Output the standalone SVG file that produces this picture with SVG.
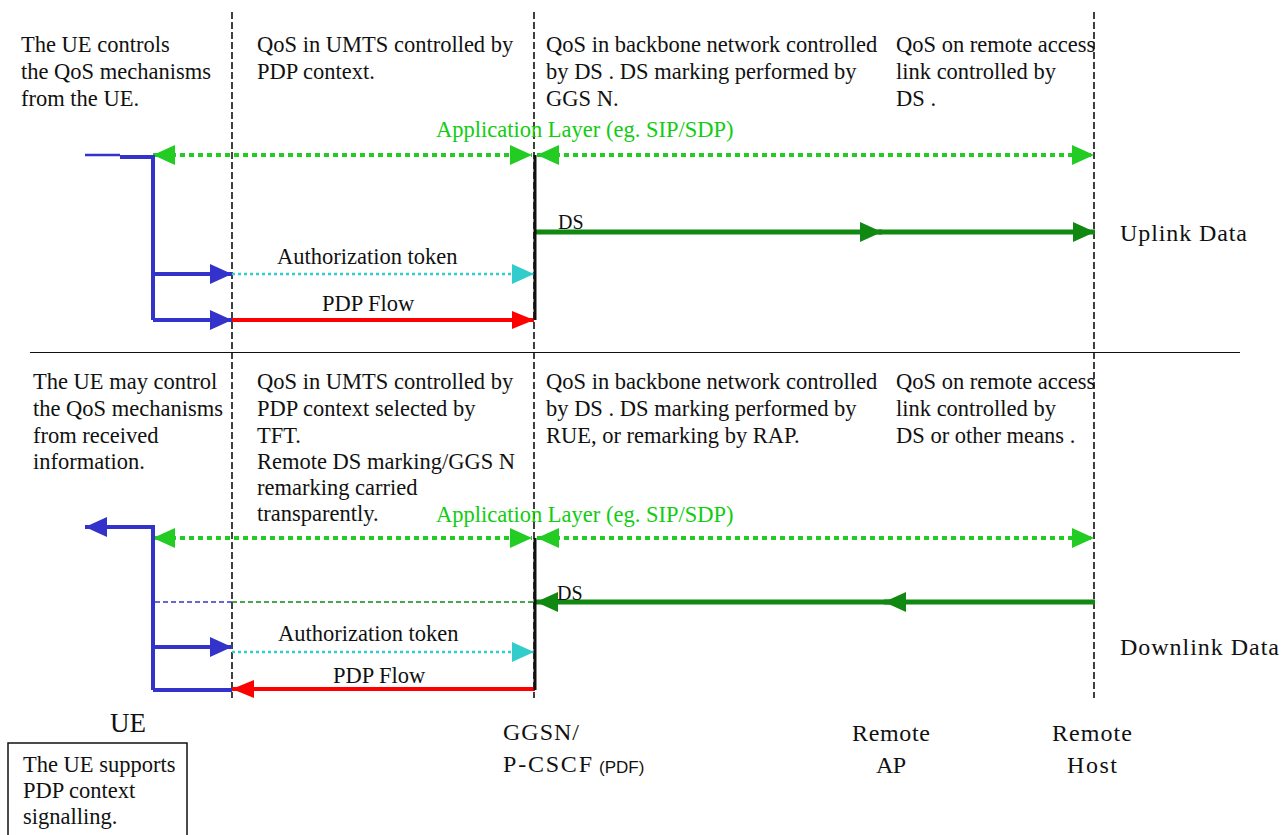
<svg xmlns="http://www.w3.org/2000/svg" width="1281" height="835" viewBox="0 0 1281 835">
<style>
text{font-family:"Liberation Serif","Times New Roman",serif;font-size:22.5px;fill:#111}
.g{fill:#11cc11}
.ds-l{font-size:20px}
.big{font-size:24px}
.ue{font-size:27px}
.pdf{font-family:"Liberation Sans",Arial,sans-serif;font-size:17px}
.life{stroke:#111;stroke-width:1.6;stroke-dasharray:7 3;fill:none}
.app{stroke:#22cc22;stroke-width:4;stroke-dasharray:5 4;fill:none}
.blue{stroke:#3333cc;stroke-width:4;fill:none}
.cyan{stroke:#33cccc;stroke-width:2.5;stroke-dasharray:3 3;fill:none}
.red{stroke:#ff0000;stroke-width:4;fill:none}
.ds{stroke:#118811;stroke-width:5;fill:none}
.thin{stroke-width:1.5;stroke-dasharray:5 3;fill:none}
.gg{stroke:#111;stroke-width:3}
</style>
<defs>
<marker id="mg" viewBox="0 0 22 20" refX="22" refY="10" markerWidth="22" markerHeight="20" markerUnits="userSpaceOnUse" orient="auto-start-reverse"><path d="M0,0 L22,10 L0,20 z" fill="#22cc22"/></marker>
<marker id="mb" viewBox="0 0 22 20" refX="22" refY="10" markerWidth="22" markerHeight="20" markerUnits="userSpaceOnUse" orient="auto"><path d="M0,0 L22,10 L0,20 z" fill="#3333cc"/></marker>
<marker id="mc" viewBox="0 0 22 20" refX="22" refY="10" markerWidth="22" markerHeight="20" markerUnits="userSpaceOnUse" orient="auto"><path d="M0,0 L22,10 L0,20 z" fill="#33cccc"/></marker>
<marker id="mr" viewBox="0 0 22 18" refX="22" refY="9" markerWidth="22" markerHeight="18" markerUnits="userSpaceOnUse" orient="auto"><path d="M0,0 L22,9 L0,18 z" fill="#ff0000"/></marker>
<marker id="md" viewBox="0 0 22 20" refX="22" refY="10" markerWidth="22" markerHeight="20" markerUnits="userSpaceOnUse" orient="auto"><path d="M0,0 L22,10 L0,20 z" fill="#118811"/></marker>
</defs>
<rect width="1281" height="835" fill="#ffffff"/>

<g id="lifelines">
<line class="life" x1="232" y1="12" x2="232" y2="698"/>
<line class="life" x1="534" y1="12" x2="534" y2="698"/>
<line class="life" x1="1094" y1="12" x2="1094" y2="698"/>
<line x1="30" y1="352.5" x2="1240" y2="352.5" stroke="#111" stroke-width="1"/>
</g>

<g id="uplink-text">
<text x="21" y="52">The UE controls</text>
<text x="21" y="79">the QoS mechanisms</text>
<text x="21" y="106">from the UE.</text>
<text x="257" y="52">QoS in UMTS controlled by</text>
<text x="257" y="79">PDP context.</text>
<text x="546" y="52">QoS in backbone network controlled</text>
<text x="546" y="79">by DS . DS marking performed by</text>
<text x="546" y="106">GGS N.</text>
<text x="896" y="52">QoS on remote access</text>
<text x="896" y="79">link controlled by</text>
<text x="896" y="106">DS .</text>
<text class="big" x="1120" y="241" textLength="127" lengthAdjust="spacing">Uplink Data</text>
</g>

<g id="downlink-text">
<text x="33" y="389">The UE may control</text>
<text x="33" y="416">the QoS mechanisms</text>
<text x="33" y="443">from received</text>
<text x="33" y="469">information.</text>
<text x="257" y="389">QoS in UMTS controlled by</text>
<text x="257" y="416">PDP context selected by</text>
<text x="257" y="443">TFT.</text>
<text x="257" y="469">Remote DS marking/GGS N</text>
<text x="257" y="495">remarking carried</text>
<text x="257" y="521">transparently.</text>
<text x="546" y="389">QoS in backbone network controlled</text>
<text x="546" y="416">by DS . DS marking performed by</text>
<text x="546" y="443">RUE, or remarking by RAP.</text>
<text x="896" y="389">QoS on remote access</text>
<text x="896" y="416">link controlled by</text>
<text x="896" y="443">DS or other means .</text>
<text class="big" x="1120" y="655" textLength="159" lengthAdjust="spacing">Downlink Data</text>
</g>

<g id="connectors">
<!-- uplink -->
<line class="app" x1="153" y1="155" x2="532" y2="155" marker-start="url(#mg)" marker-end="url(#mg)"/>
<line class="app" x1="537" y1="155" x2="1094" y2="155" marker-start="url(#mg)" marker-end="url(#mg)"/>
<text class="g" x="436" y="137">Application Layer (eg. SIP/SDP)</text>
<line x1="85" y1="155" x2="120" y2="155" stroke="#3333cc" stroke-width="2.5"/>
<path class="blue" d="M120,157 H153 V320"/>
<line class="blue" x1="153" y1="274" x2="232" y2="274" marker-end="url(#mb)"/>
<line class="blue" x1="153" y1="320" x2="232" y2="320" marker-end="url(#mb)"/>
<line class="cyan" x1="232" y1="274" x2="534" y2="274" marker-end="url(#mc)"/>
<line class="red" x1="232" y1="320" x2="534" y2="320" marker-end="url(#mr)"/>
<line class="ds" x1="535" y1="232" x2="882" y2="232" marker-end="url(#md)"/>
<line class="ds" x1="878" y1="232" x2="1095" y2="232" marker-end="url(#md)"/>
<text class="ds-l" x="558" y="229">DS</text>
<text x="277" y="264">Authorization token</text>
<text x="322" y="311">PDP Flow</text>
<line class="gg" x1="535" y1="155" x2="535" y2="320"/>

<!-- downlink -->
<line class="app" x1="153" y1="538" x2="532" y2="538" marker-start="url(#mg)" marker-end="url(#mg)"/>
<line class="app" x1="537" y1="538" x2="1094" y2="538" marker-start="url(#mg)" marker-end="url(#mg)"/>
<text class="g" x="436" y="522">Application Layer (eg. SIP/SDP)</text>
<path class="blue" d="M153,690 V527 H85" marker-end="url(#mb)"/>
<line class="blue" x1="153" y1="647" x2="232" y2="647" marker-end="url(#mb)"/>
<line class="blue" x1="153" y1="690" x2="232" y2="690"/>
<line class="thin" stroke="#3333cc" x1="155" y1="602" x2="232" y2="602"/>
<line class="thin" stroke="#118811" x1="232" y1="602" x2="534" y2="602"/>
<line class="ds" x1="1095" y1="602" x2="884" y2="602" marker-end="url(#md)"/>
<line class="ds" x1="890" y1="602" x2="536" y2="602" marker-end="url(#md)"/>
<text class="ds-l" x="557" y="600">DS</text>
<line class="cyan" x1="232" y1="652" x2="534" y2="652" marker-end="url(#mc)"/>
<line class="red" x1="535" y1="689" x2="232" y2="689" marker-end="url(#mr)"/>
<text x="278" y="641">Authorization token</text>
<text x="333" y="683">PDP Flow</text>
<line class="gg" x1="535" y1="538" x2="535" y2="690"/>
</g>

<g id="node-ue">
<text class="ue" x="128" y="732" text-anchor="middle">UE</text>
<rect x="8" y="743" width="179" height="100" fill="none" stroke="#111" stroke-width="1.5"/>
<text x="23" y="772">The UE supports</text>
<text x="23" y="798">PDP context</text>
<text x="23" y="824">signalling.</text>
</g>
<g id="node-ggsn">
<text class="big" x="503" y="740" textLength="76" lengthAdjust="spacing">GGSN/</text>
<text class="big" x="503" y="772" textLength="89" lengthAdjust="spacing">P-CSCF</text>
<text class="pdf" x="599" y="773">(PDF)</text>
</g>
<g id="node-remote-ap">
<text class="big" x="852" y="741" textLength="78" lengthAdjust="spacing">Remote</text>
<text class="big" x="876" y="773" textLength="30" lengthAdjust="spacing">AP</text>
</g>
<g id="node-remote-host">
<text class="big" x="1052" y="741" textLength="80" lengthAdjust="spacing">Remote</text>
<text class="big" x="1067" y="773" textLength="50" lengthAdjust="spacing">Host</text>
</g>
</svg>
